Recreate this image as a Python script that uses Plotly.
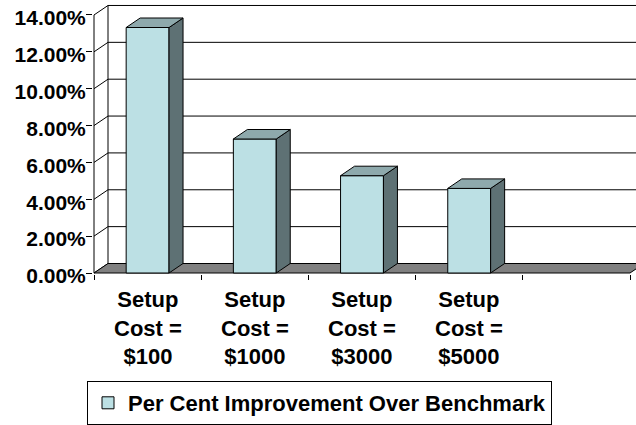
import plotly.graph_objects as go

# ---- data ----
categories = ["Setup<br>Cost =<br>$100", "Setup<br>Cost =<br>$1000",
              "Setup<br>Cost =<br>$3000", "Setup<br>Cost =<br>$5000"]
values = [0.1332, 0.0727, 0.0528, 0.0459]
series_name = "Per Cent Improvement Over Benchmark"
n_slots = 5
y_ticks = [0.0, 0.02, 0.04, 0.06, 0.08, 0.10, 0.12, 0.14]

# ---- styling / geometry ----
FONT = "Liberation Sans, Arial, sans-serif"
FRONT = "#BCE0E4"
SIDE = "#5E7174"
TOP = "#8EA9AC"
FLOOR = "#808080"

W, H = 636, 425
L, R, T, B = 93, 0, 4, 151
PW, PH = W - L - R, H - T - B
X_PX = 107.2          # px per category slot
Y_PX = 1843.0         # px per unit of value
DX = 14 / X_PX        # depth offset (x)
DY = 9.5 / Y_PX       # depth offset (y)
BAR_W = 0.40
xr = [-1 / X_PX, -1 / X_PX + PW / X_PX]
yr = [-1 / Y_PX, (PH - 1) / Y_PX]
XFAR = xr[1] + 1
ymax = y_ticks[-1]
PLOT_BOTTOM = T + PH  # pixel row of plot-area bottom

fig = go.Figure()

# front faces
centers = [i + 0.5 for i in range(len(values))]
fig.add_trace(go.Bar(x=centers, y=values, width=BAR_W, name=series_name,
                     marker=dict(color=FRONT, line=dict(color="black", width=1)),
                     hoverinfo="skip"))

# side + top faces
for c, v in zip(centers, values):
    x0, x1 = c - BAR_W / 2, c + BAR_W / 2
    fig.add_trace(go.Scatter(x=[x1, x1 + DX, x1 + DX, x1, x1],
                             y=[0, DY, v + DY, v, 0],
                             mode="lines", fill="toself", fillcolor=SIDE,
                             line=dict(color="black", width=1),
                             showlegend=False, hoverinfo="skip"))
    fig.add_trace(go.Scatter(x=[x0, x1, x1 + DX, x0 + DX, x0],
                             y=[v, v, v + DY, v + DY, v],
                             mode="lines", fill="toself", fillcolor=TOP,
                             line=dict(color="black", width=1),
                             showlegend=False, hoverinfo="skip"))

shapes = []
# gridlines on side wall and back wall
for t in y_ticks:
    shapes.append(dict(type="path", xref="x", yref="y", layer="below",
                       path=f"M0,{t} L{DX},{t + DY} L{XFAR},{t + DY}",
                       line=dict(color="black", width=1)))
# back wall left edge
shapes.append(dict(type="line", xref="x", yref="y", layer="below",
                   x0=DX, y0=DY, x1=DX, y1=ymax + DY,
                   line=dict(color="black", width=1)))
# front value axis line
shapes.append(dict(type="line", xref="x", yref="y", layer="below",
                   x0=0, y0=0, x1=0, y1=ymax,
                   line=dict(color="black", width=1)))
# floor
shapes.append(dict(type="path", xref="x", yref="y", layer="below",
                   path=f"M0,0 L{n_slots},0 L{n_slots + DX},{DY} L{XFAR},{DY} L{DX},{DY} Z",
                   fillcolor=FLOOR, line=dict(color="black", width=1)))

annotations = []
for c, lab in zip(centers, categories):
    annotations.append(dict(x=c, y=(PLOT_BOTTOM - 328) / PH,
                            xref="x", yref="paper", text=lab, showarrow=False,
                            xanchor="center", yanchor="middle", align="center",
                            font=dict(family=FONT, size=22, color="black", weight="bold")))

fig.update_layout(
    width=W, height=H,
    margin=dict(l=L, r=R, t=T, b=B, pad=0, autoexpand=False),
    paper_bgcolor="white", plot_bgcolor="white",
    shapes=shapes, annotations=annotations,
    showlegend=True,
    legend=dict(orientation="h", x=(87 - L) / PW, y=(PLOT_BOTTOM - 425) / PH,
                xanchor="left", yanchor="bottom",
                bordercolor="black", borderwidth=1, bgcolor="white",
                font=dict(family=FONT, size=22, color="black", weight="bold")),
    xaxis=dict(range=xr, tickvals=list(range(n_slots + 1)), ticks="outside",
               ticklen=5, tickcolor="black", showticklabels=False,
               showgrid=False, zeroline=False, showline=False, fixedrange=True),
    yaxis=dict(range=yr, tickvals=y_ticks, tickformat=".2%", ticks="outside",
               ticklen=6, tickcolor="black", showgrid=False, zeroline=False,
               showline=False, fixedrange=True,
               ticklabelstandoff=-4, ticklabelshift=3,
               tickfont=dict(family=FONT, size=21, color="black", weight="bold")),
)

fig.write_html("out.html")
